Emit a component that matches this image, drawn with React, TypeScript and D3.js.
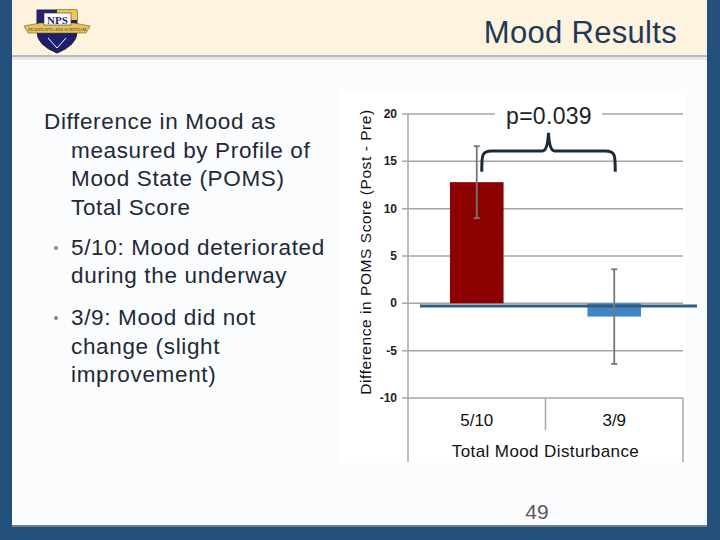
import React from "react";
import * as d3 from "d3";

const categories = ["5/10", "3/9"];
const means = [12.8, -1.4];
const errHigh = [16.6, 3.6];
const errLow = [9.0, -6.4];
const yTicks = [-10, -5, 0, 5, 10, 15, 20];
const barColors = ["#8b0000", "#3f86c8"];
const pLabel = "p=0.039";

const bodyLines = [
  { t: "Difference in Mood as", x: 44, y: 129 },
  { t: "measured by Profile of", x: 71, y: 158 },
  { t: "Mood State (POMS)", x: 71, y: 186 },
  { t: "Total Score", x: 71, y: 215 },
  { t: "5/10: Mood deteriorated", x: 71, y: 255, bullet: true },
  { t: "during the underway", x: 71, y: 283 },
  { t: "3/9: Mood did not", x: 71, y: 325, bullet: true },
  { t: "change (slight", x: 71, y: 354 },
  { t: "improvement)", x: 71, y: 382 },
];

export default function App() {
  const font = "Liberation Sans, Arial, sans-serif";
  const y = d3.scaleLinear().domain([-10, 20]).range([398, 114]);
  const x = d3.scaleBand<string>().domain(categories).range([408, 683]).padding(0);
  const bw = x.bandwidth() * 0.39;
  const cx = (c: string) => (x(c) as number) + x.bandwidth() / 2;
  const plotL = 408, plotR = 683;

  const x1 = cx(categories[0]) + 5;
  const x2 = cx(categories[1]) + 1;
  const mid = (x1 + x2) / 2;
  const yEnd = y(13.9), yBar = y(16.1), yPeak = y(18);
  const bracket = `M${x1},${yEnd} C${x1},${yBar + 4} ${x1},${yBar} ${x1 + 10},${yBar} L${mid - 6},${yBar} Q${mid - 1},${yBar} ${mid},${yPeak} Q${mid + 1},${yBar} ${mid + 6},${yBar} L${x2 - 10},${yBar} C${x2},${yBar} ${x2},${yBar + 4} ${x2},${yEnd}`;

  return (
    <svg width={720} height={540} style={{ position: "absolute", left: 0, top: 0 }} fontFamily={font}>
      <rect x={0} y={0} width={720} height={540} fill="#fafcfe" />
      {/* header */}
      <rect x={0} y={0} width={720} height={55} fill="#fdf3de" />
      <rect x={12} y={55} width={696} height={2} fill="#b8bcc0" />
      <rect x={12} y={57} width={696} height={3} fill="#e3e6ea" />
      {/* side bars */}
      <rect x={0} y={0} width={12} height={540} fill="#22507a" />
      <rect x={707} y={0} width={13} height={540} fill="#22507a" />
      <rect x={0} y={527} width={720} height={13} fill="#22507a" />
      <rect x={12} y={525} width={695} height={2} fill="#6f7f90" />
      {/* logo */}
      <g>
        <path d="M37,10 L77,10 L77,32 Q77,45 57,53 Q37,45 37,32 Z" fill="#1c1f6b" stroke="#222" strokeWidth={1} />
        <path d="M37,10 L57,10 L57,20 L37,20 Z" fill="#23236e" />
        <path d="M57,10 L77,10 L77,20 L57,20 Z" fill="#f2c84b" />
        <path d="M24,26 L40,23 L74,23 L90,26 L86,33 L74,33 L40,33 L28,33 Z" fill="#e8c35a" stroke="#6b5520" strokeWidth={0.6} />
        <rect x={44} y={13} width={27} height={12} fill="#fff" stroke="#333" strokeWidth={0.6} />
        <text x={57.5} y={23.5} textAnchor="middle" fontFamily="Liberation Serif, serif" fontWeight="bold" fontSize={11} fill="#1c1f6b">NPS</text>
        <text x={57} y={31} textAnchor="middle" fontFamily="Liberation Serif, serif" fontSize={4} fill="#333">PRAESTANTIA PER SCIENTIAM</text>
        <path d="M48,38 L57,48 L66,38" fill="none" stroke="#fff" strokeWidth={1} />
      </g>
      <text x={677} y={43} textAnchor="end" fontSize={31} letterSpacing={0.3} fill="#1f3a57">Mood Results</text>

      {/* left body text */}
      {bodyLines.map((l, i) => (
        <g key={i}>
          {l.bullet && <circle cx={56} cy={l.y - 7} r={2} fill="#888" />}
          <text x={l.x} y={l.y} fontSize={22.5} letterSpacing={0.65} fill="#1e2a36">{l.t}</text>
        </g>
      ))}

      {/* chart background */}
      <rect x={341} y={90} width={345} height={373} fill="#ffffff" />

      {/* gridlines */}
      {yTicks.map((t) => (
        <g key={t}>
          <line x1={plotL - 6} x2={plotR} y1={y(t)} y2={y(t)} stroke="#a6a6a6" strokeWidth={1.5} />
          <text x={397} y={y(t) + 4} textAnchor="end" fontSize={12} fontWeight="bold" fill="#222">{t}</text>
        </g>
      ))}
      {/* axes */}
      <line x1={plotL} x2={plotL} y1={y(20)} y2={462} stroke="#a6a6a6" strokeWidth={1.5} />
      <line x1={plotR} x2={plotR} y1={y(-10)} y2={462} stroke="#a6a6a6" strokeWidth={1.5} />
      <line x1={(plotL + plotR) / 2} x2={(plotL + plotR) / 2} y1={y(-10)} y2={430} stroke="#a6a6a6" strokeWidth={1.5} />

      {/* bars */}
      {categories.map((c, i) => {
        const v = means[i];
        return (
          <rect key={c} x={cx(c) - bw / 2} y={y(Math.max(0, v))} width={bw} height={Math.abs(y(v) - y(0))} fill={barColors[i]} />
        );
      })}
      {/* zero reference line */}
      <line x1={420} x2={697} y1={y(-0.28)} y2={y(-0.28)} stroke="#2f5e82" strokeWidth={3} />
      {/* error bars */}
      {categories.map((c, i) => (
        <g key={c} stroke="#777" strokeWidth={1.8}>
          <line x1={cx(c)} x2={cx(c)} y1={y(errHigh[i])} y2={y(errLow[i])} />
          <line x1={cx(c) - 3} x2={cx(c) + 3} y1={y(errHigh[i])} y2={y(errHigh[i])} />
          <line x1={cx(c) - 3} x2={cx(c) + 3} y1={y(errLow[i])} y2={y(errLow[i])} />
        </g>
      ))}

      {/* category labels */}
      {categories.map((c) => (
        <text key={c} x={cx(c)} y={426} textAnchor="middle" fontSize={17} fill="#111">{c}</text>
      ))}
      <text x={(plotL + plotR) / 2} y={457} textAnchor="middle" fontSize={17} letterSpacing={0.4} fill="#111">Total Mood Disturbance</text>
      <text transform={`translate(371,252) rotate(-90)`} textAnchor="middle" fontSize={15.5} letterSpacing={0.55} fill="#111">
        Difference in POMS Score (Post - Pre)
      </text>

      {/* significance bracket */}
      <rect x={495} y={100} width={107} height={28} fill="#ffffff" />
      <text x={549} y={124} textAnchor="middle" fontSize={23} letterSpacing={0.3} fill="#222">{pLabel}</text>
      <path d={bracket} fill="none" stroke="#1d2b38" strokeWidth={3} />

      <text x={537} y={519} textAnchor="middle" fontSize={21} fill="#595959">49</text>
    </svg>
  );
}
